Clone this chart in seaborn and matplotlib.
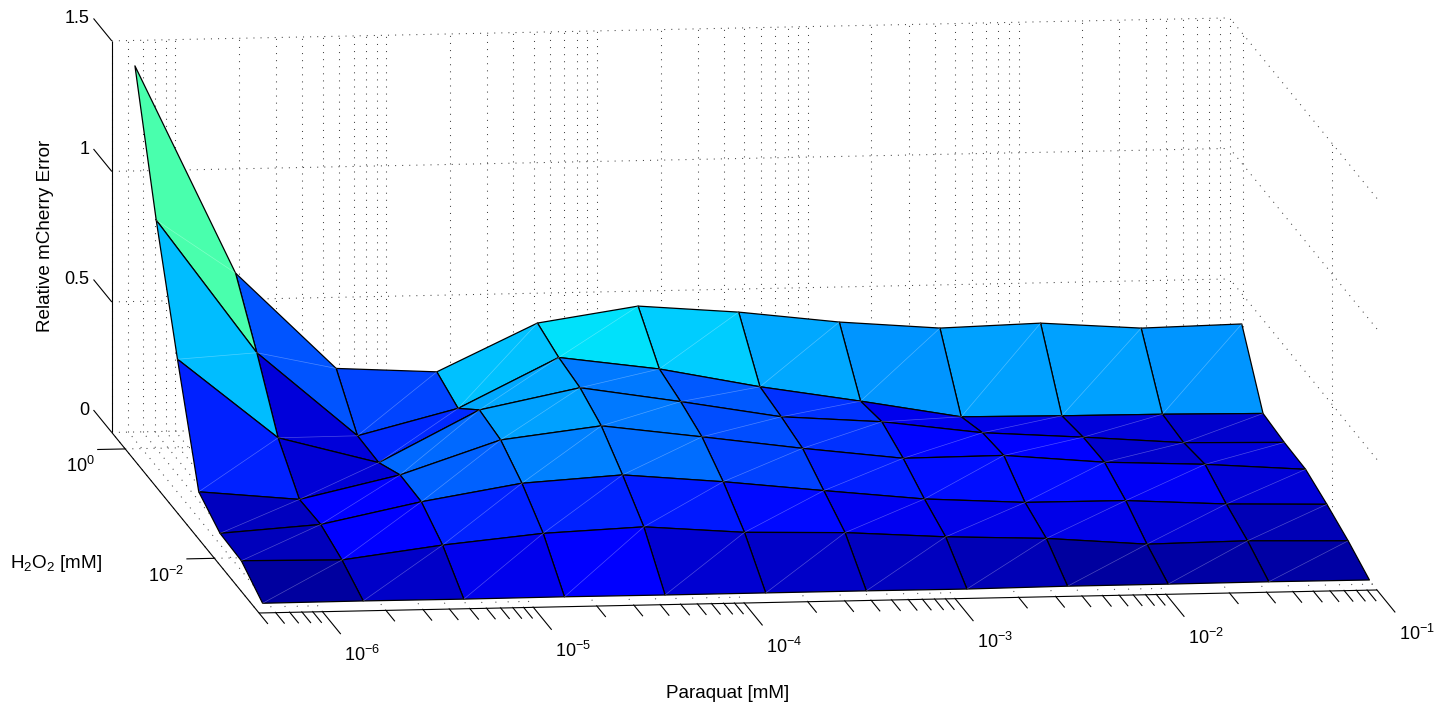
##################################### Importing Packages #####################################
import numpy as np
import seaborn as sns
import matplotlib
matplotlib.use("Agg")
import matplotlib.pyplot as plt
from mpl_toolkits.mplot3d import proj3d

##################################### Data #####################################

# Concentrations on the two log axes
paraquat_mm = [5.2e-7, 1.56e-6, 4.68e-6, 1.404e-5, 4.212e-5, 1.264e-4, 3.791e-4, 1.137e-3, 3.412e-3, 1.024e-2, 3.07e-2, 9.21e-2]
h2o2_mm = [0.001, 0.003, 0.009, 0.027, 0.081, 0.243, 0.729]

# Relative error, one list per H2O2 level (front row of the picture first)
error_h2o2_1 = [0.037, 0.038, 0.037, 0.038, 0.037, 0.037, 0.037, 0.036, 0.039, 0.039, 0.040, 0.039]
error_h2o2_2 = [0.100, 0.095, 0.144, 0.181, 0.198, 0.169, 0.160, 0.136, 0.122, 0.092, 0.097, 0.089]
error_h2o2_3 = [0.105, 0.131, 0.210, 0.273, 0.297, 0.263, 0.221, 0.181, 0.160, 0.159, 0.138, 0.129]
error_h2o2_4 = [0.164, 0.127, 0.213, 0.339, 0.385, 0.335, 0.283, 0.237, 0.240, 0.206, 0.190, 0.163]
error_h2o2_5 = [0.572, 0.263, 0.160, 0.354, 0.431, 0.370, 0.304, 0.277, 0.227, 0.202, 0.173, 0.166]
error_h2o2_6 = [1.005, 0.489, 0.163, 0.260, 0.447, 0.395, 0.319, 0.256, 0.188, 0.184, 0.182, 0.177]
error_h2o2_7 = [1.496, 0.694, 0.321, 0.300, 0.479, 0.536, 0.505, 0.459, 0.428, 0.439, 0.412, 0.420]

# Cell colour value (position on the jet colormap), one list per row of cells
color_row_1 = [0.029, 0.066, 0.097, 0.115, 0.072, 0.066, 0.055, 0.050, 0.030, 0.035, 0.035]
color_row_2 = [0.054, 0.115, 0.160, 0.160, 0.150, 0.135, 0.100, 0.090, 0.090, 0.075, 0.050]
color_row_3 = [0.058, 0.115, 0.222, 0.250, 0.233, 0.190, 0.155, 0.140, 0.135, 0.105, 0.075]
color_row_4 = [0.160, 0.078, 0.228, 0.282, 0.243, 0.200, 0.175, 0.130, 0.125, 0.070, 0.080]
color_row_5 = [0.310, 0.080, 0.165, 0.290, 0.243, 0.213, 0.175, 0.095, 0.090, 0.080, 0.070]
color_row_6 = [0.440, 0.210, 0.195, 0.316, 0.345, 0.325, 0.292, 0.272, 0.282, 0.282, 0.272]

# Axis limits and ticks (log10 for the two concentration axes)
x_limits = (np.log10(5e-7), -1.0)
y_limits = (-3.0, np.log10(2.0))
z_limits = (0.0, 1.5)
x_major_exponents = [-6, -5, -4, -3, -2, -1]
y_major_exponents = [0, -2]
z_ticks = [0, 0.5, 1, 1.5]
z_tick_labels = ["0", "0.5", "1", "1.5"]

##################################### Settings #####################################

sns.set_theme(style="white")
plt.rcParams["font.family"] = ["Liberation Sans", "DejaVu Sans"]
plt.rcParams["mathtext.fontset"] = "custom"
plt.rcParams["mathtext.rm"] = "Liberation Sans"
plt.rcParams["mathtext.it"] = "Liberation Sans"
plt.rcParams["mathtext.default"] = "regular"

tick_size = 13
title_size = 13.6
dots = (0, (1, 5.8))
dot_color = "#444444"
axis_lw = 0.8
major_len = 0.41  # tick length in decades of H2O2
minor_len = 0.20

##################################### Building Grid #####################################

x = np.log10(paraquat_mm)
y = np.log10(h2o2_mm)
X, Y = np.meshgrid(x, y)
Z = np.array([error_h2o2_1, error_h2o2_2, error_h2o2_3, error_h2o2_4, error_h2o2_5, error_h2o2_6, error_h2o2_7])
C = np.array([color_row_1, color_row_2, color_row_3, color_row_4, color_row_5, color_row_6])

jet = matplotlib.colormaps["jet"]

x_minor = []
for decade in range(-7, -1):
    for m in range(1, 10):
        v = decade + np.log10(m)
        if x_limits[0] - 1e-9 <= v <= x_limits[1] + 1e-9:
            x_minor.append(v)
x_minor.append(x_limits[1])

##################################### Creating Figure #####################################

fig = plt.figure(figsize=(14.52, 7.09), dpi=100)
ax = fig.add_axes([0, -0.5, 1, 2.048], projection="3d", proj_type="ortho", computed_zorder=False)
ax.view_init(elev=9.14, azim=-97.38)
ax.set_xlim(*x_limits, view_margin=0)
ax.set_ylim(*y_limits, view_margin=0)
ax.set_zlim(*z_limits, view_margin=0)
ax.set_box_aspect((1127.3, 1146.0, 396.6))
ax.set_xticks([])
ax.set_yticks([])
ax.set_zticks([])
ax.set_axis_off()


def to_pixels(px, py, pz):
    # Screen position of a data point, y counted from the top of the picture
    sx, sy, _ = proj3d.proj_transform(px, py, pz, ax.get_proj())
    ox, oy = ax.transData.transform((sx, sy))
    return ox, 709 - oy


# Fit the axes box so that the front floor edge lands where it does in the reference
ax.apply_aspect()
side = 1452.0
bx, by = to_pixels(x_limits[0], y_limits[0], 0)
cx, cy = to_pixels(x_limits[1], y_limits[0], 0)
side = side * 1118.2 / np.hypot(cx - bx, cy - by)
ax.set_position([0, 0, side / 1452, side / 709])
ax.apply_aspect()
bx, by = to_pixels(x_limits[0], y_limits[0], 0)
ax.set_position([(259 - bx) / 1452, (by - 613) / 709, side / 1452, side / 709])
ax.apply_aspect()

##################################### Walls #####################################

def wall_line(xs, ys, zs):
    ax.plot(xs, ys, zs, color=dot_color, lw=0.75, linestyle=dots, zorder=1)


for v in x_minor:
    wall_line([v, v], [y_limits[1]] * 2, z_limits)
    wall_line([v, v], y_limits, [0, 0])
for v in y_major_exponents:
    wall_line([x_limits[1]] * 2, [v, v], z_limits)
    wall_line(x_limits, [v, v], [0, 0])
for v in z_ticks:
    wall_line(x_limits, [y_limits[1]] * 2, [v, v])
    wall_line([x_limits[1]] * 2, y_limits, [v, v])

##################################### Surface #####################################

ax.plot_surface(X, Y, Z, facecolors=jet(C), shade=False, rstride=1, cstride=1,
                edgecolor="black", linewidth=0.9, antialiased=True, zorder=2)

# Light seam across every cell
for r in range(len(y) - 1):
    for i in range(len(x) - 1):
        ax.plot([x[i], x[i + 1]], [y[r], y[r + 1]], [Z[r, i], Z[r + 1, i + 1]],
                color="white", alpha=0.3, lw=0.5, zorder=3)

##################################### Axes Lines & Ticks #####################################

def axis_line(xs, ys, zs):
    ax.plot(xs, ys, zs, color="black", lw=axis_lw, solid_capstyle="butt", zorder=4)


axis_line(x_limits, [y_limits[0]] * 2, [0, 0])
axis_line([x_limits[0]] * 2, y_limits, [0, 0])
axis_line([x_limits[0]] * 2, [y_limits[1]] * 2, z_limits)

for v in x_minor:
    is_major = any(abs(v - e) < 1e-6 for e in x_major_exponents)
    length = major_len if is_major else minor_len
    axis_line([v, v], [y_limits[0], y_limits[0] - length], [0, 0])

for e in x_major_exponents:
    ax.text(e + 0.02, y_limits[0] - 0.80, 0, "$10^{%d}$" % e, ha="center", va="center", fontsize=tick_size, color="black", zorder=5)

for e in y_major_exponents:
    axis_line([x_limits[0], x_limits[0] - 0.133], [e, e], [0, 0])
    ax.text(x_limits[0] - 0.21, e - 0.30, 0, "$10^{%d}$" % e, ha="right", va="center", fontsize=tick_size, color="black", zorder=5)

for v, lab in zip(z_ticks, z_tick_labels):
    axis_line([x_limits[0]] * 2, [y_limits[1], y_limits[1] + major_len], [v, v])
    ax.text(x_limits[0] - 0.019, y_limits[1] + 0.41, v, lab, ha="right", va="center", fontsize=tick_size, color="black", zorder=5)

# Axis titles
fig.text(728 / 1452, 1 - 693.5 / 709, "Paraquat [mM]", ha="center", va="center", fontsize=title_size, color="black")
fig.text(56.5 / 1452, 1 - 564 / 709, "H$_2$O$_2$ [mM]", ha="center", va="center", fontsize=title_size, color="black")
fig.text(46 / 1452, 1 - 236 / 709, "Relative mCherry Error", ha="center", va="center", rotation=90, fontsize=title_size, color="black")

##################################### Exporting #####################################

fig.savefig("out.png", dpi=100, facecolor="white")
